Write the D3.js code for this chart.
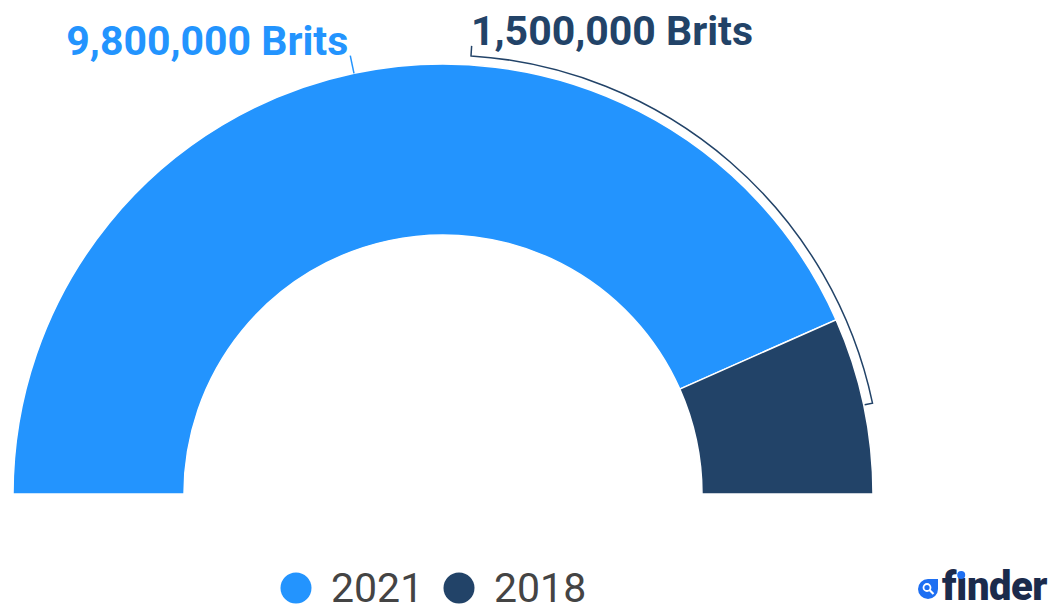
<!DOCTYPE html>
<html>
<head>
    <title>Brits semi donut</title>
    <script src="https://d3js.org/d3.v7.min.js"></script>
</head>
<body style="margin:0;background:#fff">
    <script>
        const [width, height] = [1053, 605]

        // data
        const years = ["2021", "2018"];
        const brits = [9800000, 1500000];
        const labels = ["9,800,000 Brits", "1,500,000 Brits"];
        const colors = ["#2394fe", "#224368"];

        const cx = 443, cy = 494;
        const outerR = 430, innerR = 259;

        const svg = d3.select("body")
            .append("svg")
            .attr("width", width)
            .attr("height", height)
            .style("font-family", "Roboto");

        const pie = d3.pie()
            .sort(null)
            .startAngle(-Math.PI / 2)
            .endAngle(Math.PI / 2);

        const arcs = pie(brits);
        const arc = d3.arc().innerRadius(innerR).outerRadius(outerR);

        const g = svg.append("g").attr("transform", `translate(${cx},${cy})`);

        g.selectAll("path.slice")
            .data(arcs)
            .enter()
            .append("path")
            .attr("class", "slice")
            .attr("d", arc)
            .style("fill", (d, i) => colors[i])
            .style("stroke", "#fff")
            .style("stroke-width", 1.5);

        // point on a circle, angle measured clockwise from 12 o'clock
        const polar = (r, a) => [r * Math.sin(a), -r * Math.cos(a)];
        const mid = d => (d.startAngle + d.endAngle) / 2;

        // 2021 label: short radial leader
        const a0 = mid(arcs[0]);
        const p1 = polar(outerR, a0), p2 = polar(outerR + 18, a0);
        g.append("line")
            .attr("x1", p1[0]).attr("y1", p1[1])
            .attr("x2", p2[0]).attr("y2", p2[1])
            .style("stroke", colors[0])
            .style("stroke-width", 1.5);

        g.append("text")
            .attr("x", p2[0] - 2)
            .attr("y", p2[1] - 1)
            .attr("text-anchor", "end")
            .style("fill", colors[0])
            .style("font-size", "41px")
            .style("font-weight", "bold")
            .text(labels[0]);

        // 2018 label: bracket following the outer edge
        const bracketR = outerR + 9;
        const labelX = 471 - cx;
        const a1 = Math.asin(labelX / bracketR);
        const a2 = mid(arcs[1]);
        const s0 = polar(bracketR + 10, a1);
        const s1 = polar(bracketR, a1);
        const e1 = polar(bracketR, a2);
        const e0 = polar(outerR + 1, a2);
        g.append("path")
            .attr("d", `M${s0}L${s1}A${bracketR},${bracketR} 0 0 1 ${e1}L${e0}`)
            .style("fill", "none")
            .style("stroke", colors[1])
            .style("stroke-width", 1.5);

        g.append("text")
            .attr("x", labelX)
            .attr("y", s0[1] - 1)
            .style("fill", colors[1])
            .style("font-size", "41px")
            .style("font-weight", "bold")
            .text(labels[1]);

        // legend
        const legendX = [296, 459];
        const legend = svg.selectAll("g.legend")
            .data(years)
            .enter()
            .append("g")
            .attr("class", "legend")
            .attr("transform", (d, i) => `translate(${legendX[i]},588)`);

        legend.append("circle")
            .attr("r", 15.5)
            .style("fill", (d, i) => colors[i]);

        legend.append("text")
            .attr("x", 35)
            .attr("y", 14)
            .style("fill", "#444")
            .style("font-size", "41px")
            .text(d => d);

        // finder logo
        const logo = svg.append("g");
        logo.append("path")
            .attr("d", "M928,579L938,579L938,589A10,10 0 1 1 928,579Z")
            .style("fill", "#1e6ff2");
        logo.append("circle")
            .attr("cx", 927).attr("cy", 587.5).attr("r", 3.5)
            .style("fill", "none")
            .style("stroke", "#fff")
            .style("stroke-width", 1.8);
        logo.append("line")
            .attr("x1", 929.5).attr("y1", 590).attr("x2", 933.5).attr("y2", 594)
            .style("stroke", "#fff")
            .style("stroke-width", 2.2);
        // dotless i, the dot is drawn in blue
        const finder = logo.append("text")
            .attr("x", 942)
            .attr("y", 600)
            .style("fill", "#1b2b4c")
            .style("font-size", "40px")
            .style("font-weight", "900")
            .style("letter-spacing", "-0.5px")
            .text("f\u0131nder");
        const ext = finder.node().getExtentOfChar(1);
        logo.append("circle")
            .attr("cx", ext.x + ext.width / 2 - 0.25)
            .attr("cy", 575)
            .attr("r", 4)
            .style("fill", "#1e6ff2");
    </script>
</body>
</html>
